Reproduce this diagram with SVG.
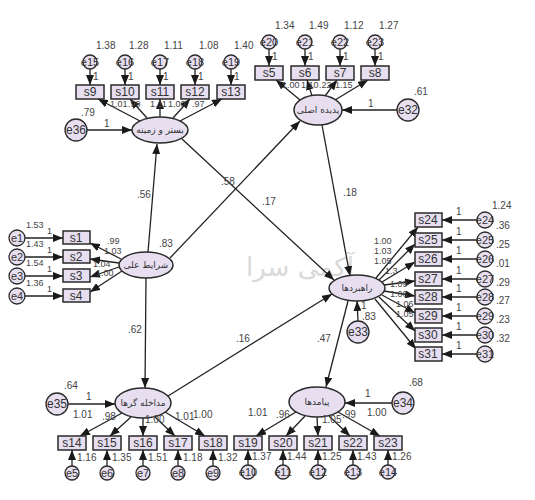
<svg xmlns="http://www.w3.org/2000/svg" width="535" height="500" viewBox="0 0 535 500">
<style>
.lat{fill:#e7dff0;stroke:#2a2a2a;stroke-width:1.5}
.obs{fill:#e7dff0;stroke:#2a2a2a;stroke-width:1.5}
.err{fill:#e7dff0;stroke:#2a2a2a;stroke-width:1.3}
.ot{font-family:"Liberation Sans",Arial,sans-serif;font-size:12px;fill:#333;text-anchor:middle}
.et{font-family:"Liberation Sans",Arial,sans-serif;font-size:11px;fill:#333;text-anchor:middle}
.lt{font-family:"DejaVu Sans","Noto Sans",sans-serif;font-size:9px;fill:#333;text-anchor:middle}
.n{font-family:"Liberation Sans",Arial,sans-serif;font-size:10px;fill:#444}
.n .s{font-size:9px}
.c line{stroke:#222;stroke-width:1.3;marker-end:url(#ah)}
.wm{font-family:"DejaVu Sans","Noto Sans",sans-serif;font-size:26px;fill:#d9d9d9;text-anchor:middle}
</style>
<defs>
<marker id="ah" viewBox="0 0 10 8" refX="10" refY="4" markerWidth="10" markerHeight="8" orient="auto" markerUnits="userSpaceOnUse"><path d="M0,0 L10,4 L0,8 z" fill="#1a1a1a"/></marker>
</defs>
<rect width="535" height="500" fill="#fff"/>
<text class="wm" x="300" y="276">آکمی سرا</text>

<g class="c" id="connectors">
<line x1="148" y1="252" x2="157" y2="144"/>
<line x1="170" y1="258" x2="300" y2="121"/>
<line x1="182" y1="139" x2="334" y2="280"/>
<line x1="322" y1="125" x2="350" y2="276"/>
<line x1="146" y1="278" x2="145" y2="388"/>
<line x1="168" y1="396" x2="332" y2="294"/>
<line x1="348" y1="301" x2="326" y2="387"/>
<line x1="87" y1="130" x2="132" y2="130"/>
<line x1="397" y1="110" x2="342" y2="110"/>
<line x1="358" y1="321" x2="357" y2="301"/>
<line x1="68" y1="404" x2="115" y2="404"/>
<line x1="392" y1="403" x2="345" y2="403"/>
<line x1="140" y1="121" x2="98" y2="99"/>
<line x1="147" y1="118" x2="130" y2="99"/>
<line x1="160" y1="117" x2="160" y2="99"/>
<line x1="173" y1="118" x2="190" y2="99"/>
<line x1="180" y1="121" x2="222" y2="99"/>
<line x1="300" y1="100" x2="276" y2="80"/>
<line x1="312" y1="96" x2="307" y2="80"/>
<line x1="325" y1="96" x2="337" y2="80"/>
<line x1="335" y1="100" x2="368" y2="80"/>
<line x1="121" y1="259" x2="90" y2="243"/>
<line x1="119" y1="263" x2="90" y2="259"/>
<line x1="119" y1="267" x2="90" y2="277"/>
<line x1="122" y1="271" x2="90" y2="292"/>
<line x1="376" y1="278" x2="418" y2="227"/>
<line x1="379" y1="280" x2="415" y2="244"/>
<line x1="382" y1="282" x2="415" y2="262"/>
<line x1="384" y1="285" x2="415" y2="281"/>
<line x1="384" y1="291" x2="415" y2="296"/>
<line x1="382" y1="295" x2="415" y2="313"/>
<line x1="379" y1="297" x2="415" y2="331"/>
<line x1="375" y1="299" x2="416" y2="349"/>
<line x1="122" y1="413" x2="80" y2="436"/>
<line x1="131" y1="417" x2="110" y2="436"/>
<line x1="143" y1="418" x2="143" y2="436"/>
<line x1="155" y1="417" x2="175" y2="436"/>
<line x1="165" y1="412" x2="205" y2="436"/>
<line x1="296" y1="412" x2="256" y2="436"/>
<line x1="305" y1="416" x2="286" y2="436"/>
<line x1="317" y1="417" x2="318" y2="436"/>
<line x1="329" y1="416" x2="350" y2="436"/>
<line x1="338" y1="412" x2="380" y2="436"/>
<line x1="90" y1="69" x2="90" y2="85"/>
<line x1="125" y1="69" x2="125" y2="85"/>
<line x1="160" y1="69" x2="160" y2="85"/>
<line x1="195" y1="69" x2="195" y2="85"/>
<line x1="231" y1="69" x2="231" y2="85"/>
<line x1="269" y1="49" x2="269" y2="66"/>
<line x1="305" y1="49" x2="305" y2="66"/>
<line x1="340" y1="49" x2="340" y2="66"/>
<line x1="375" y1="49" x2="375" y2="66"/>
<line x1="25" y1="238" x2="63" y2="238"/>
<line x1="25" y1="257" x2="63" y2="257"/>
<line x1="25" y1="276" x2="63" y2="276"/>
<line x1="25" y1="296" x2="63" y2="296"/>
<line x1="477" y1="220" x2="442" y2="220"/>
<line x1="477" y1="240" x2="442" y2="240"/>
<line x1="477" y1="259" x2="442" y2="259"/>
<line x1="477" y1="279" x2="442" y2="279"/>
<line x1="477" y1="297" x2="442" y2="297"/>
<line x1="477" y1="316" x2="442" y2="316"/>
<line x1="477" y1="335" x2="442" y2="335"/>
<line x1="477" y1="354" x2="442" y2="354"/>
<line x1="72" y1="466" x2="72" y2="450"/>
<line x1="107" y1="466" x2="107" y2="450"/>
<line x1="143" y1="466" x2="143" y2="450"/>
<line x1="178" y1="466" x2="178" y2="450"/>
<line x1="213" y1="466" x2="213" y2="450"/>
<line x1="248" y1="465" x2="248" y2="450"/>
<line x1="283" y1="465" x2="283" y2="450"/>
<line x1="318" y1="465" x2="318" y2="450"/>
<line x1="353" y1="465" x2="353" y2="450"/>
<line x1="388" y1="465" x2="388" y2="450"/>
</g>

<g id="context"><ellipse class="lat" cx="160" cy="130" rx="28" ry="13"/><text class="lt" x="160" y="133">بستر و زمینه</text></g>
<g id="phenomenon"><ellipse class="lat" cx="318" cy="110" rx="24" ry="15"/><text class="lt" x="318" y="113">پدیده اصلی</text></g>
<g id="causal"><ellipse class="lat" cx="146" cy="265" rx="27" ry="13"/><text class="lt" x="146" y="268">شرایط علی</text></g>
<g id="strategies"><ellipse class="lat" cx="357" cy="288" rx="28" ry="13"/><text class="lt" x="357" y="291">راهبردها</text></g>
<g id="intervening"><ellipse class="lat" cx="143" cy="403" rx="28" ry="15"/><text class="lt" x="143" y="406">مداخله گرها</text></g>
<g id="outcomes"><ellipse class="lat" cx="317" cy="402" rx="28" ry="15"/><text class="lt" x="317" y="405">پیامدها</text></g>

<g id="e36"><circle class="err" cx="76" cy="130" r="11"/><text class="ot" x="76" y="134">e36</text></g>
<g id="e32"><circle class="err" cx="408" cy="110" r="11"/><text class="ot" x="408" y="114">e32</text></g>
<g id="e33"><circle class="err" cx="358" cy="332" r="11"/><text class="ot" x="358" y="336">e33</text></g>
<g id="e35"><circle class="err" cx="57" cy="404" r="11"/><text class="ot" x="57" y="408">e35</text></g>
<g id="e34"><circle class="err" cx="403" cy="403" r="11"/><text class="ot" x="403" y="407">e34</text></g>

<g id="s9"><rect class="obs" x="76" y="85" width="28" height="14"/><text class="ot" x="90" y="96">s9</text></g>
<g id="s10"><rect class="obs" x="111" y="85" width="28" height="14"/><text class="ot" x="125" y="96">s10</text></g>
<g id="s11"><rect class="obs" x="146" y="85" width="28" height="14"/><text class="ot" x="160" y="96">s11</text></g>
<g id="s12"><rect class="obs" x="181" y="85" width="28" height="14"/><text class="ot" x="195" y="96">s12</text></g>
<g id="s13"><rect class="obs" x="217" y="85" width="28" height="14"/><text class="ot" x="231" y="96">s13</text></g>
<g id="e15"><circle class="err" cx="90" cy="62" r="7"/><text class="et" x="90" y="66">e15</text></g>
<g id="e16"><circle class="err" cx="125" cy="62" r="7"/><text class="et" x="125" y="66">e16</text></g>
<g id="e17"><circle class="err" cx="160" cy="62" r="7"/><text class="et" x="160" y="66">e17</text></g>
<g id="e18"><circle class="err" cx="195" cy="62" r="7"/><text class="et" x="195" y="66">e18</text></g>
<g id="e19"><circle class="err" cx="231" cy="62" r="7"/><text class="et" x="231" y="66">e19</text></g>

<g id="s5"><rect class="obs" x="255" y="66" width="28" height="14"/><text class="ot" x="269" y="77">s5</text></g>
<g id="s6"><rect class="obs" x="291" y="66" width="28" height="14"/><text class="ot" x="305" y="77">s6</text></g>
<g id="s7"><rect class="obs" x="326" y="66" width="28" height="14"/><text class="ot" x="340" y="77">s7</text></g>
<g id="s8"><rect class="obs" x="361" y="66" width="28" height="14"/><text class="ot" x="375" y="77">s8</text></g>
<g id="e20"><circle class="err" cx="269" cy="42" r="7"/><text class="et" x="269" y="46">e20</text></g>
<g id="e21"><circle class="err" cx="305" cy="42" r="7"/><text class="et" x="305" y="46">e21</text></g>
<g id="e22"><circle class="err" cx="340" cy="42" r="7"/><text class="et" x="340" y="46">e22</text></g>
<g id="e23"><circle class="err" cx="375" cy="42" r="7"/><text class="et" x="375" y="46">e23</text></g>

<g id="s1"><rect class="obs" x="63" y="231" width="27" height="13"/><text class="ot" x="76" y="242">s1</text></g>
<g id="s2"><rect class="obs" x="63" y="250" width="27" height="13"/><text class="ot" x="76" y="261">s2</text></g>
<g id="s3"><rect class="obs" x="63" y="269" width="27" height="13"/><text class="ot" x="76" y="280">s3</text></g>
<g id="s4"><rect class="obs" x="63" y="289" width="27" height="13"/><text class="ot" x="76" y="300">s4</text></g>
<g id="e1"><circle class="err" cx="17" cy="238" r="8"/><text class="et" x="17" y="242">e1</text></g>
<g id="e2"><circle class="err" cx="17" cy="257" r="8"/><text class="et" x="17" y="261">e2</text></g>
<g id="e3"><circle class="err" cx="17" cy="276" r="8"/><text class="et" x="17" y="280">e3</text></g>
<g id="e4"><circle class="err" cx="17" cy="296" r="8"/><text class="et" x="17" y="300">e4</text></g>

<g id="s24"><rect class="obs" x="415" y="213" width="27" height="14"/><text class="ot" x="428" y="224">s24</text></g>
<g id="s25"><rect class="obs" x="415" y="233" width="27" height="14"/><text class="ot" x="428" y="244">s25</text></g>
<g id="s26"><rect class="obs" x="415" y="252" width="27" height="14"/><text class="ot" x="428" y="263">s26</text></g>
<g id="s27"><rect class="obs" x="415" y="272" width="27" height="14"/><text class="ot" x="428" y="283">s27</text></g>
<g id="s28"><rect class="obs" x="415" y="290" width="27" height="14"/><text class="ot" x="428" y="301">s28</text></g>
<g id="s29"><rect class="obs" x="415" y="309" width="27" height="14"/><text class="ot" x="428" y="320">s29</text></g>
<g id="s30"><rect class="obs" x="415" y="328" width="27" height="14"/><text class="ot" x="428" y="339">s30</text></g>
<g id="s31"><rect class="obs" x="415" y="347" width="27" height="14"/><text class="ot" x="428" y="358">s31</text></g>
<g id="e24"><circle class="err" cx="485" cy="220" r="8"/><text class="et" x="485" y="224">e24</text></g>
<g id="e25"><circle class="err" cx="485" cy="240" r="8"/><text class="et" x="485" y="244">e25</text></g>
<g id="e26"><circle class="err" cx="485" cy="259" r="8"/><text class="et" x="485" y="263">e26</text></g>
<g id="e27"><circle class="err" cx="485" cy="279" r="8"/><text class="et" x="485" y="283">e27</text></g>
<g id="e28"><circle class="err" cx="485" cy="297" r="8"/><text class="et" x="485" y="301">e28</text></g>
<g id="e29"><circle class="err" cx="485" cy="316" r="8"/><text class="et" x="485" y="320">e29</text></g>
<g id="e30"><circle class="err" cx="485" cy="335" r="8"/><text class="et" x="485" y="339">e30</text></g>
<g id="e31"><circle class="err" cx="485" cy="354" r="8"/><text class="et" x="485" y="358">e31</text></g>

<g id="s14"><rect class="obs" x="58" y="436" width="28" height="14"/><text class="ot" x="72" y="447">s14</text></g>
<g id="s15"><rect class="obs" x="93" y="436" width="28" height="14"/><text class="ot" x="107" y="447">s15</text></g>
<g id="s16"><rect class="obs" x="129" y="436" width="28" height="14"/><text class="ot" x="143" y="447">s16</text></g>
<g id="s17"><rect class="obs" x="164" y="436" width="28" height="14"/><text class="ot" x="178" y="447">s17</text></g>
<g id="s18"><rect class="obs" x="199" y="436" width="28" height="14"/><text class="ot" x="213" y="447">s18</text></g>
<g id="e5"><circle class="err" cx="72" cy="473" r="7"/><text class="et" x="72" y="477">e5</text></g>
<g id="e6"><circle class="err" cx="107" cy="473" r="7"/><text class="et" x="107" y="477">e6</text></g>
<g id="e7"><circle class="err" cx="143" cy="473" r="7"/><text class="et" x="143" y="477">e7</text></g>
<g id="e8"><circle class="err" cx="178" cy="473" r="7"/><text class="et" x="178" y="477">e8</text></g>
<g id="e9"><circle class="err" cx="213" cy="473" r="7"/><text class="et" x="213" y="477">e9</text></g>

<g id="s19"><rect class="obs" x="234" y="436" width="28" height="14"/><text class="ot" x="248" y="447">s19</text></g>
<g id="s20"><rect class="obs" x="269" y="436" width="28" height="14"/><text class="ot" x="283" y="447">s20</text></g>
<g id="s21"><rect class="obs" x="304" y="436" width="28" height="14"/><text class="ot" x="318" y="447">s21</text></g>
<g id="s22"><rect class="obs" x="339" y="436" width="28" height="14"/><text class="ot" x="353" y="447">s22</text></g>
<g id="s23"><rect class="obs" x="374" y="436" width="28" height="14"/><text class="ot" x="388" y="447">s23</text></g>
<g id="e10"><circle class="err" cx="248" cy="472" r="7"/><text class="et" x="248" y="476">e10</text></g>
<g id="e11"><circle class="err" cx="283" cy="472" r="7"/><text class="et" x="283" y="476">e11</text></g>
<g id="e12"><circle class="err" cx="318" cy="472" r="7"/><text class="et" x="318" y="476">e12</text></g>
<g id="e13"><circle class="err" cx="353" cy="472" r="7"/><text class="et" x="353" y="476">e13</text></g>
<g id="e14"><circle class="err" cx="388" cy="472" r="7"/><text class="et" x="388" y="476">e14</text></g>

<g id="labels" class="n">
<text x="137" y="198">.56</text>
<text x="221" y="185">.58</text>
<text x="262" y="205">.17</text>
<text x="343" y="196">.18</text>
<text x="128" y="333">.62</text>
<text x="236" y="342">.16</text>
<text x="317" y="342">.47</text>
<text x="159" y="247">.83</text>
<text x="81" y="116">.79</text><text x="104" y="127">1</text>
<text x="414" y="95">.61</text><text x="368" y="107">1</text>
<text x="361" y="309">1</text><text x="362" y="320">.83</text>
<text x="64" y="389">.64</text><text x="86" y="400">1</text>
<text x="409" y="386">.68</text><text x="365" y="397">1</text>
<text x="96" y="49">1.38</text><text x="129" y="49">1.28</text><text x="164" y="49">1.11</text><text x="199" y="49">1.08</text><text x="234" y="49">1.40</text>
<text x="93" y="80">1</text><text x="128" y="80">1</text><text x="163" y="80">1</text><text x="198" y="80">1</text><text x="234" y="80">1</text>
<text class="s" x="110" y="107">1.01</text><text class="s" x="128" y="107">.99</text><text class="s" x="150" y="107">1.11</text><text class="s" x="168" y="107">1.00</text><text class="s" x="192" y="107">.97</text>
<text x="275" y="29">1.34</text><text x="309" y="29">1.49</text><text x="344" y="29">1.12</text><text x="379" y="29">1.27</text>
<text x="272" y="60">1</text><text x="308" y="60">1</text><text x="343" y="60">1</text><text x="378" y="60">1</text>
<text class="s" x="282" y="88">1.00</text><text class="s" x="301" y="88">1.10</text><text class="s" x="319" y="88">.22</text><text class="s" x="335" y="88">1.15</text>
<text class="s" x="26" y="228">1.53</text><text class="s" x="26" y="247">1.43</text><text class="s" x="26" y="266">1.54</text><text class="s" x="26" y="286">1.36</text>
<text class="s" x="47" y="234">1</text><text class="s" x="47" y="253">1</text><text class="s" x="47" y="272">1</text><text class="s" x="47" y="292">1</text>
<text class="s" x="107" y="244">.99</text><text class="s" x="104" y="254">1.03</text><text class="s" x="93" y="267">1.04</text><text class="s" x="96" y="276">1.00</text>
<text x="492" y="209">1.24</text><text x="496" y="229">.36</text><text x="496" y="248">.25</text><text x="496" y="267">.01</text><text x="496" y="286">.29</text><text x="496" y="304">.27</text><text x="496" y="323">.23</text><text x="496" y="342">.32</text>
<text x="456" y="215">1</text><text x="456" y="235">1</text><text x="456" y="254">1</text><text x="456" y="274">1</text><text x="456" y="292">1</text><text x="456" y="311">1</text><text x="456" y="330">1</text><text x="456" y="349">1</text>
<text class="s" x="374" y="244">1.00</text><text class="s" x="374" y="254">1.03</text><text class="s" x="374" y="264">1.05</text><text class="s" x="385" y="274">1.3</text><text class="s" x="390" y="287">1.09</text><text class="s" x="390" y="297">1.06</text><text class="s" x="396" y="307">1.06</text><text class="s" x="396" y="317">1.05</text>
<text x="73" y="418">1.01</text><text x="102" y="420">.98</text><text x="145" y="423">1.00</text><text x="175" y="420">1.01</text><text x="193" y="418">1.00</text>
<text x="77" y="461">1.16</text><text x="112" y="461">1.35</text><text x="148" y="461">1.51</text><text x="183" y="461">1.18</text><text x="218" y="461">1.32</text>
<text x="248" y="416">1.01</text><text x="276" y="418">.96</text><text x="322" y="423">1.05</text><text x="342" y="418">.99</text><text x="367" y="416">1.00</text>
<text x="252" y="460">1.37</text><text x="287" y="460">1.44</text><text x="322" y="460">1.25</text><text x="357" y="460">1.43</text><text x="392" y="460">1.26</text>
</g>
</svg>
